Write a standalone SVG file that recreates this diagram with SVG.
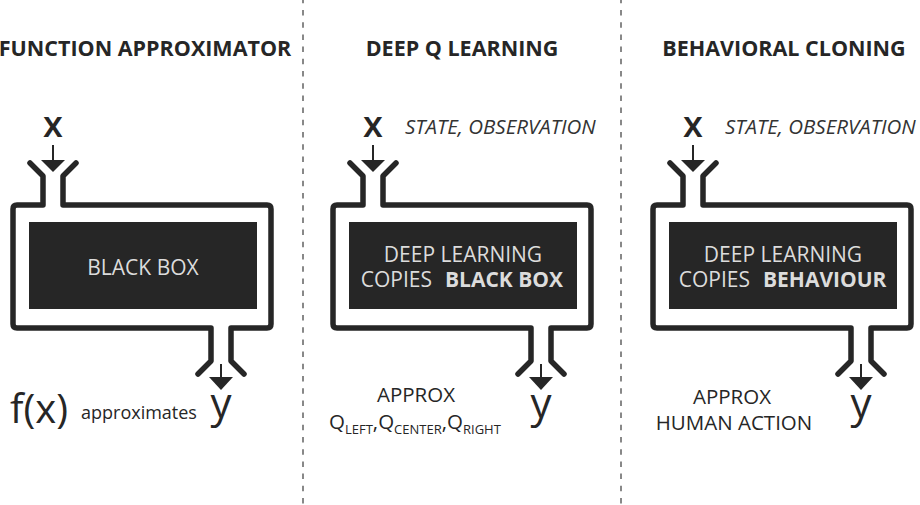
<svg xmlns="http://www.w3.org/2000/svg" xmlns:xlink="http://www.w3.org/1999/xlink" width="920" height="505" viewBox="0 0 920 505">
<style>
.bg{fill:#ffffff}
.frame{fill:none;stroke:#262626;stroke-width:5.5;stroke-linecap:round;stroke-linejoin:round}
.box{fill:#262626}
.divider{stroke:#888888;stroke-width:2;stroke-dasharray:5.5 6.7}
.arrow{stroke:#262626;stroke-width:2;fill:none}
.head{fill:#262626}
.t{font-family:"Open Sans","Liberation Sans",sans-serif;fill:#262626}
.h{font-size:21.5px;font-weight:700;text-anchor:middle}
.boxt{font-size:21px;fill:#dcdcdc;text-anchor:middle}
.var{font-size:36px;font-weight:600;text-anchor:middle}
.out{font-size:42px;text-anchor:middle}
.lbl{font-size:20.5px}
.it{font-size:20.5px;font-style:italic;fill:#333333}
.sub{font-size:13px}
</style>
<defs>
<g id="shell">
<path class="frame" d="M30,163 L43,176 L43,205 L17,205 Q13,205 13,209 L13,324 Q13,328 17,328 L211,328 L211,361 L198,374"/>
<path class="frame" d="M76,163 L63,176 L63,205 L267,205 Q271,205 271,209 L271,324 Q271,328 267,328 L231,328 L231,361 L244,374"/>
<rect class="box" x="29" y="222" width="228" height="87"/>
</g>
<g id="arrows">
<line class="arrow" x1="53" y1="145" x2="53" y2="161"/>
<polygon class="head" points="41,160 65,160 53,172"/>
<line class="arrow" x1="221" y1="364" x2="221" y2="378"/>
<polygon class="head" points="209,377 233,377 221,390"/>
</g>
</defs>
<rect class="bg" x="0" y="0" width="920" height="505"/>
<g id="dividers">
<line class="divider" x1="303" y1="-2.2" x2="303" y2="505"/>
<line class="divider" x1="621" y1="-2.2" x2="621" y2="505"/>
</g>
<g id="node-function-approximator">
<text class="t h" x="145" y="56">FUNCTION APPROXIMATOR</text>
<use xlink:href="#shell"/>
<text class="t boxt" x="143" y="275">BLACK BOX</text>
<text class="t var" x="53" y="137">x</text>
<text class="t" x="10" y="423" font-size="40">f(x)</text>
<text class="t" x="81" y="419" font-size="18">approximates</text>
<text class="t out" x="221" y="418">y</text>
</g>
<g id="node-deep-q-learning">
<text class="t h" x="462" y="56">DEEP Q LEARNING</text>
<use xlink:href="#shell" transform="translate(320,0)"/>
<text class="t boxt" x="463" y="262">DEEP LEARNING</text>
<text class="t boxt" x="432" y="287" style="text-anchor:end">COPIES</text>
<text class="t boxt" x="445" y="287" font-weight="700" style="text-anchor:start">BLACK BOX</text>
<text class="t var" x="373" y="137">x</text>
<text class="t it" x="405" y="134">STATE, OBSERVATION</text>
<text class="t lbl" x="416" y="402" text-anchor="middle">APPROX</text>
<text class="t lbl" x="329" y="429">Q<tspan class="sub" dy="5">LEFT</tspan><tspan dy="-5">,</tspan>Q<tspan class="sub" dy="5">CENTER</tspan><tspan dy="-5">,</tspan>Q<tspan class="sub" dy="5">RIGHT</tspan></text>
<text class="t out" x="541" y="418">y</text>
</g>
<g id="node-behavioral-cloning">
<text class="t h" x="784" y="56">BEHAVIORAL CLONING</text>
<use xlink:href="#shell" transform="translate(640,0)"/>
<text class="t boxt" x="783" y="262">DEEP LEARNING</text>
<text class="t boxt" x="750" y="287" style="text-anchor:end">COPIES</text>
<text class="t boxt" x="763" y="287" font-weight="700" style="text-anchor:start">BEHAVIOUR</text>
<text class="t var" x="693" y="137">x</text>
<text class="t it" x="725" y="134">STATE, OBSERVATION</text>
<text class="t lbl" x="732" y="404" text-anchor="middle">APPROX</text>
<text class="t lbl" x="734" y="430" text-anchor="middle">HUMAN ACTION</text>
<text class="t out" x="861" y="418">y</text>
</g>
<g id="connectors">
<use xlink:href="#arrows"/>
<use xlink:href="#arrows" transform="translate(320,0)"/>
<use xlink:href="#arrows" transform="translate(640,0)"/>
</g>
</svg>
